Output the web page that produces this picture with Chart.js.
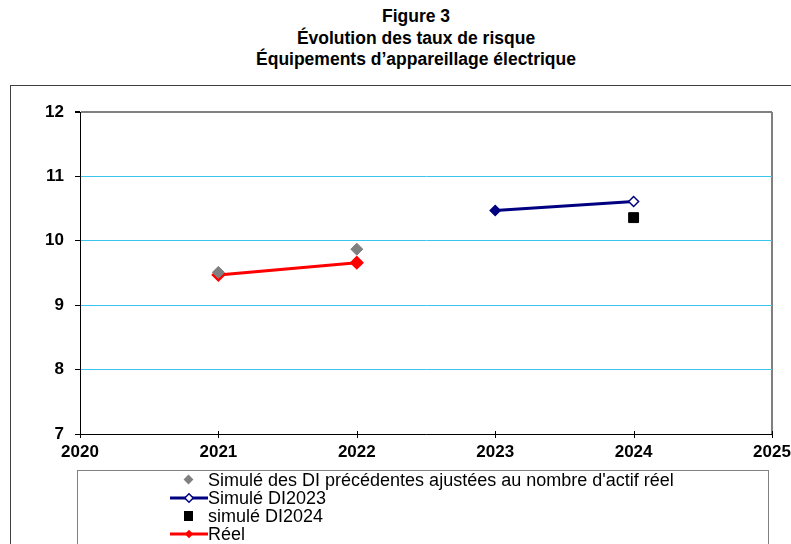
<!DOCTYPE html>
<html>
<head>
<meta charset="utf-8">
<script src="https://cdn.jsdelivr.net/npm/chart.js@4"></script>
<style>
  body { margin: 0; width: 791px; height: 544px; overflow: hidden; background: #fff; font-family: Arial, "Liberation Sans", sans-serif; }
  #title { position: absolute; left: 0; top: 6px; width: 832px; text-align: center; font-weight: bold; font-size: 17.5px; line-height: 21.5px; color: #000; }
  #frame { position: absolute; left: 10px; top: 85px; width: 800px; height: 500px; border: 1px solid #404040; }
  #chart { position: absolute; left: 0; top: 0; }
  #legend { position: absolute; left: 77px; top: 470px; width: 692px; height: 100px; border: 1px solid #808080; box-sizing: border-box; }
  .item { position: absolute; left: 92px; height: 18px; font-size: 18px; line-height: 18px; color: #000; white-space: nowrap; }
  .item svg { position: absolute; left: 0; top: 0; }
  .item span { position: absolute; left: 38px; top: 0; }
</style>
</head>
<body>
<div id="title">Figure 3<br>Évolution des taux de risque<br>Équipements d’appareillage électrique</div>
<div id="frame"></div>
<canvas id="chart" width="791" height="544"></canvas>
<div id="legend">
  <div class="item" style="top:0px"><svg width="38" height="18"><rect x="15" y="5" width="7" height="7" fill="#808080" transform="rotate(45 18.5 8.5)"/></svg><span>Simulé des DI précédentes ajustées au nombre d'actif réel</span></div>
  <div class="item" style="top:18px"><svg width="38" height="18"><line x1="0" y1="9" x2="38" y2="9" stroke="#000080" stroke-width="3"/><rect x="16" y="6" width="6" height="6" fill="#fff" stroke="#000080" stroke-width="1.5" transform="rotate(45 19 9)"/></svg><span>Simulé DI2023</span></div>
  <div class="item" style="top:36px"><svg width="38" height="18"><rect x="14" y="4" width="9" height="10" fill="#000"/></svg><span>simulé DI2024</span></div>
  <div class="item" style="top:54px"><svg width="38" height="18"><line x1="0" y1="9" x2="38" y2="9" stroke="#ff0000" stroke-width="3"/><rect x="16" y="6" width="6" height="6" fill="#ff0000" transform="rotate(45 19 9)"/></svg><span>Réel</span></div>
</div>
<script>
// values
const xTicks = [2020, 2021, 2022, 2023, 2024, 2025];
const yTicks = [7, 8, 9, 10, 11, 12];
const prevYears = [2021, 2022];
const prevValues = [9.51, 9.87];
const di2023Years = [2023, 2024];
const di2023Values = [10.47, 10.61];
const di2024Years = [2024];
const di2024Values = [10.36];
const reelYears = [2021, 2022];
const reelValues = [9.47, 9.66];

function pts(xs, ys) {
    return xs.map(function(x, i) { return { x: x, y: ys[i] }; });
}

// small tick marks across the x axis
const xTickMarks = {
    id: 'xTickMarks',
    afterDraw: function(chart) {
        const ctx = chart.ctx;
        const xs = chart.scales.x;
        const yb = chart.chartArea.bottom;
        ctx.save();
        ctx.strokeStyle = '#000';
        ctx.lineWidth = 1;
        xTicks.forEach(function(v) {
            const px = Math.round(xs.getPixelForValue(v)) + 0.5;
            ctx.beginPath();
            ctx.moveTo(px, yb - 3);
            ctx.lineTo(px, yb + 4);
            ctx.stroke();
        });
        ctx.restore();
    }
};

const ctx = document.getElementById('chart').getContext('2d');
new Chart(ctx, {
    type: 'line',
    data: {
        datasets: [
            {
                label: 'Simulé des DI précédentes ajustées au nombre d\'actif réel',
                data: pts(prevYears, prevValues),
                showLine: false,
                pointStyle: 'rectRot',
                pointRadius: 6,
                pointBackgroundColor: '#808080',
                pointBorderColor: '#808080',
                borderColor: '#808080'
            },
            {
                label: 'Simulé DI2023',
                data: pts(di2023Years, di2023Values),
                borderColor: '#000080',
                borderWidth: 3,
                pointStyle: 'rectRot',
                pointRadius: 5,
                pointBorderWidth: 1.5,
                pointBackgroundColor: ['#000080', '#ffffff'],
                pointBorderColor: '#000080'
            },
            {
                label: 'simulé DI2024',
                data: pts(di2024Years, di2024Values),
                showLine: false,
                pointStyle: 'rect',
                pointRadius: 7,
                pointBackgroundColor: '#000',
                pointBorderColor: '#000',
                borderColor: '#000'
            },
            {
                label: 'Réel',
                data: pts(reelYears, reelValues),
                borderColor: '#ff0000',
                borderWidth: 3,
                pointStyle: 'rectRot',
                pointRadius: 5,
                pointBackgroundColor: '#ff0000',
                pointBorderColor: '#ff0000'
            }
        ]
    },
    options: {
        responsive: false,
        animation: false,
        layout: { padding: { left: 0, top: 112, right: 19, bottom: 80 } },
        plugins: {
            legend: { display: false },
            tooltip: { enabled: false }
        },
        scales: {
            x: {
                type: 'linear',
                min: 2020,
                max: 2025,
                afterFit: function(scale) {
                    scale.height = 30;
                    scale.paddingLeft = 0;
                    scale.paddingRight = 0;
                },
                afterBuildTicks: function(scale) { scale.ticks = xTicks.map(function(v) { return { value: v }; }); },
                border: { color: '#000', width: 1 },
                grid: {
                    drawTicks: false,
                    color: function(c) { return c.tick && c.tick.value === 2025 ? '#808080' : 'rgba(0,0,0,0)'; },
                    lineWidth: 2
                },
                ticks: {
                    padding: 8,
                    color: '#000',
                    font: { family: 'Arial, "Liberation Sans"', size: 17, weight: 'bold' },
                    callback: function(v) { return String(v); }
                }
            },
            y: {
                min: 7,
                max: 12,
                afterFit: function(scale) { scale.width = 80; },
                afterBuildTicks: function(scale) { scale.ticks = yTicks.map(function(v) { return { value: v }; }); },
                border: { color: '#000', width: 1 },
                grid: {
                    color: function(c) { return c.tick && c.tick.value === 12 ? '#808080' : '#3cc4f0'; },
                    lineWidth: function(c) { return c.tick && c.tick.value === 12 ? 2 : 1; },
                    tickColor: '#000',
                    tickLength: 5
                },
                ticks: {
                    padding: 11,
                    color: '#000',
                    font: { family: 'Arial, "Liberation Sans"', size: 17, weight: 'bold' }
                }
            }
        }
    },
    plugins: [xTickMarks]
});
</script>
</body>
</html>
